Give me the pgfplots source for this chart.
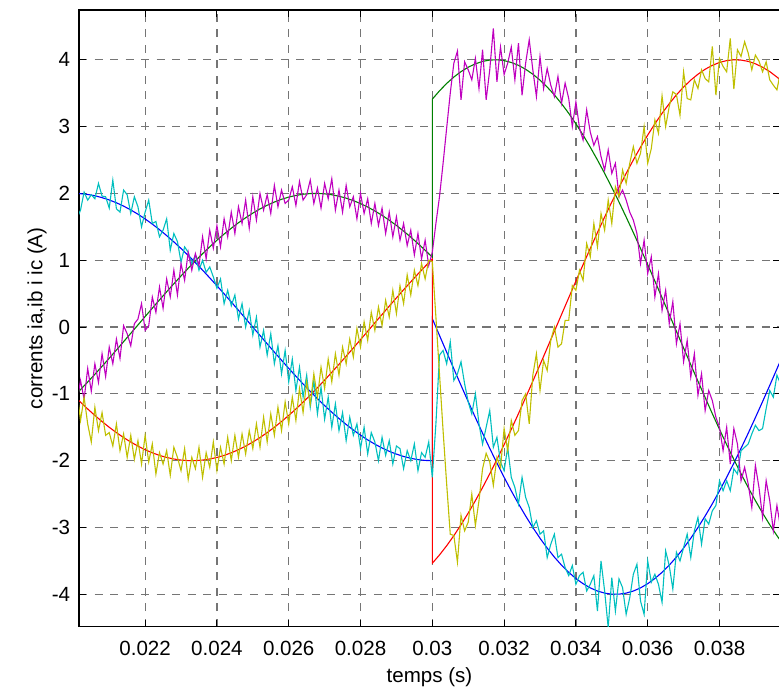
\documentclass[border=0pt]{standalone}
\usepackage{fontspec}
\setmainfont{Liberation Sans}
\usepackage{pgfplots}
\usepackage{pgfplotstable}
\pgfplotsset{compat=1.18}

\definecolor{mblue}{rgb}{0,0,1}
\definecolor{mgreen}{rgb}{0,0.5,0}
\definecolor{mred}{rgb}{1,0,0}
\definecolor{mcyan}{rgb}{0,0.75,0.75}
\definecolor{mmagenta}{rgb}{0.75,0,0.75}
\definecolor{molive}{rgb}{0.75,0.75,0}
\definecolor{gridgray}{rgb}{0.46,0.46,0.46}

% reference currents ia, ib, ic (step at t = 0.03 s)
\pgfplotstableread{
t ga rb bc
0.0200 -1.045 -1.018 2.000
0.0202 -0.936 -1.124 1.996
0.0204 -0.823 -1.226 1.984
0.0206 -0.707 -1.323 1.965
0.0208 -0.588 -1.414 1.937
0.0210 -0.467 -1.500 1.902
0.0212 -0.344 -1.580 1.860
0.0214 -0.219 -1.654 1.810
0.0216 -0.094 -1.721 1.753
0.0218 0.031 -1.782 1.689
0.0220 0.157 -1.836 1.618
0.0222 0.282 -1.882 1.541
0.0224 0.406 -1.921 1.458
0.0226 0.528 -1.952 1.369
0.0228 0.648 -1.975 1.275
0.0230 0.765 -1.991 1.176
0.0232 0.880 -1.999 1.072
0.0234 0.991 -1.999 0.964
0.0236 1.098 -1.991 0.852
0.0238 1.201 -1.975 0.736
0.0240 1.299 -1.952 0.618
0.0242 1.392 -1.921 0.497
0.0244 1.479 -1.882 0.375
0.0246 1.561 -1.836 0.251
0.0248 1.636 -1.782 0.126
0.0250 1.705 -1.721 0.000
0.0252 1.768 -1.654 -0.126
0.0254 1.823 -1.580 -0.251
0.0256 1.871 -1.500 -0.375
0.0258 1.912 -1.414 -0.497
0.0260 1.945 -1.323 -0.618
0.0262 1.970 -1.226 -0.736
0.0264 1.988 -1.124 -0.852
0.0266 1.998 -1.018 -0.964
0.0268 2.000 -0.908 -1.072
0.0270 1.994 -0.794 -1.176
0.0272 1.980 -0.677 -1.275
0.0274 1.958 -0.558 -1.369
0.0276 1.929 -0.436 -1.458
0.0278 1.892 -0.313 -1.541
0.0280 1.848 -0.188 -1.618
0.0282 1.796 -0.063 -1.689
0.0284 1.737 0.063 -1.753
0.0286 1.672 0.188 -1.810
0.0288 1.599 0.313 -1.860
0.0290 1.521 0.436 -1.902
0.0292 1.436 0.558 -1.937
0.0294 1.346 0.677 -1.965
0.0296 1.250 0.794 -1.984
0.0298 1.150 0.908 -1.996
0.0300 1.045 1.018 -2.000
0.0300 3.411 -3.535 0.126
0.0302 3.535 -3.411 -0.126
0.0304 3.646 -3.273 -0.376
0.0306 3.742 -3.122 -0.626
0.0308 3.823 -2.959 -0.873
0.0310 3.889 -2.784 -1.116
0.0312 3.940 -2.598 -1.355
0.0314 3.976 -2.402 -1.589
0.0316 3.996 -2.196 -1.816
0.0318 4.000 -1.982 -2.036
0.0320 3.988 -1.760 -2.248
0.0322 3.960 -1.531 -2.452
0.0324 3.917 -1.296 -2.645
0.0326 3.858 -1.055 -2.828
0.0328 3.784 -0.811 -3.000
0.0330 3.696 -0.564 -3.161
0.0332 3.592 -0.314 -3.308
0.0334 3.475 -0.063 -3.443
0.0336 3.343 0.188 -3.564
0.0338 3.199 0.439 -3.671
0.0340 3.042 0.688 -3.764
0.0342 2.873 0.934 -3.841
0.0344 2.692 1.176 -3.904
0.0346 2.501 1.414 -3.951
0.0348 2.300 1.646 -3.982
0.0350 2.090 1.872 -3.998
0.0352 1.872 2.090 -3.998
0.0354 1.646 2.300 -3.982
0.0356 1.414 2.501 -3.951
0.0358 1.176 2.692 -3.904
0.0360 0.934 2.873 -3.841
0.0362 0.688 3.042 -3.764
0.0364 0.439 3.199 -3.671
0.0366 0.188 3.343 -3.564
0.0368 -0.063 3.475 -3.443
0.0370 -0.314 3.592 -3.308
0.0372 -0.564 3.696 -3.161
0.0374 -0.811 3.784 -3.000
0.0376 -1.055 3.858 -2.828
0.0378 -1.296 3.917 -2.645
0.0380 -1.531 3.960 -2.452
0.0382 -1.760 3.988 -2.248
0.0384 -1.982 4.000 -2.036
0.0386 -2.196 3.996 -1.816
0.0388 -2.402 3.976 -1.589
0.0390 -2.598 3.940 -1.355
0.0392 -2.784 3.889 -1.116
0.0394 -2.959 3.823 -0.873
0.0396 -3.122 3.742 -0.626
0.0398 -3.273 3.646 -0.376
0.0400 -3.411 3.535 -0.126
}\refcurrents

% measured currents ia, ib, ic
\pgfplotstableread{
t ma yb cc
0.0200 -0.95 -0.78 1.85
0.0201 -1.12 -0.95 1.62
0.0202 -0.80 -1.40 1.75
0.0203 -1.08 -1.05 2.02
0.0204 -0.62 -1.45 1.90
0.0205 -0.96 -1.72 1.98
0.0206 -0.55 -1.20 1.92
0.0207 -0.83 -1.55 2.15
0.0208 -0.40 -1.28 1.96
0.0209 -0.74 -1.62 1.95
0.0210 -0.30 -1.58 1.78
0.0211 -0.55 -1.78 2.20
0.0212 -0.18 -1.45 1.77
0.0213 -0.47 -1.85 1.72
0.0214 0.02 -1.60 2.05
0.0215 -0.10 -1.95 1.98
0.0216 -0.28 -1.62 1.70
0.0217 0.05 -1.98 1.95
0.0218 0.12 -1.70 1.80
0.0219 0.35 -2.05 1.50
0.0220 -0.05 -1.62 1.72
0.0221 0.02 -2.02 1.90
0.0222 0.45 -1.75 1.55
0.0223 0.22 -2.20 1.58
0.0224 0.60 -1.88 1.35
0.0225 0.28 -2.05 1.45
0.0226 0.72 -1.85 1.62
0.0227 0.45 -2.22 1.15
0.0228 0.85 -1.80 1.40
0.0229 0.48 -1.95 1.28
0.0230 0.95 -2.15 0.97
0.0231 0.70 -1.82 1.20
0.0232 1.12 -2.28 1.12
0.0233 0.85 -1.95 0.95
0.0234 1.10 -2.12 1.08
0.0235 0.92 -1.80 0.85
0.0236 1.35 -2.25 1.00
0.0237 1.02 -1.88 0.82
0.0238 1.45 -2.10 0.90
0.0239 1.18 -1.72 0.75
0.0240 1.52 -2.15 0.58
0.0241 1.20 -1.80 0.72
0.0242 1.62 -2.05 0.35
0.0243 1.35 -1.65 0.55
0.0244 1.72 -2.00 0.32
0.0245 1.40 -1.62 0.48
0.0246 1.80 -1.95 0.12
0.0247 1.55 -1.60 0.35
0.0248 1.90 -1.90 0.00
0.0249 1.48 -1.55 0.25
0.0250 1.95 -1.82 -0.12
0.0251 1.60 -1.45 0.15
0.0252 2.00 -1.80 -0.30
0.0253 1.75 -1.35 -0.05
0.0254 1.98 -1.72 -0.42
0.0255 1.70 -1.30 -0.10
0.0256 2.12 -1.62 -0.55
0.0257 1.80 -1.20 -0.28
0.0258 2.05 -1.55 -0.70
0.0259 1.85 -1.12 -0.35
0.0260 1.90 -1.45 -0.82
0.0261 2.10 -1.05 -0.48
0.0262 1.82 -1.40 -0.95
0.0263 2.18 -0.92 -0.60
0.0264 1.90 -1.28 -1.05
0.0265 1.98 -0.82 -0.72
0.0266 2.20 -1.15 -1.20
0.0267 1.85 -0.70 -0.80
0.0268 2.08 -1.05 -1.30
0.0269 1.78 -0.60 -0.90
0.0270 2.15 -0.92 -1.38
0.0271 1.92 -0.48 -1.05
0.0272 2.22 -0.82 -1.50
0.0273 1.75 -0.40 -1.15
0.0274 2.05 -0.72 -1.55
0.0275 1.72 -0.30 -1.28
0.0276 2.12 -0.55 -1.70
0.0277 1.80 -0.18 -1.35
0.0278 1.95 -0.45 -1.62
0.0279 1.62 -0.02 -1.45
0.0280 2.00 -0.30 -1.82
0.0281 1.70 0.08 -1.50
0.0282 1.92 -0.20 -1.90
0.0283 1.55 0.22 -1.58
0.0284 1.85 -0.05 -1.72
0.0285 1.52 0.30 -2.00
0.0286 1.78 0.02 -1.65
0.0287 1.40 0.40 -1.92
0.0288 1.72 0.15 -1.70
0.0289 1.35 0.55 -2.05
0.0290 1.65 0.20 -1.78
0.0291 1.30 0.62 -1.82
0.0292 1.55 0.35 -2.12
0.0293 1.22 0.78 -1.85
0.0294 1.45 0.48 -2.00
0.0295 1.08 0.85 -1.75
0.0296 1.40 0.62 -2.15
0.0297 1.02 0.95 -1.88
0.0298 1.30 0.72 -1.95
0.0299 0.92 1.00 -1.72
0.0300 1.12 0.98 -2.25
0.0301 1.55 0.15 -1.45
0.0302 1.95 -0.70 -0.42
0.0303 2.45 -1.55 -0.35
0.0304 2.98 -2.35 -0.55
0.0305 3.50 -3.10 -0.22
0.0306 3.95 -3.12 -0.80
0.0307 4.13 -3.52 -0.70
0.0308 3.40 -2.82 -0.52
0.0309 3.97 -3.05 -0.85
0.0310 3.85 -2.92 -1.12
0.0311 3.70 -2.50 -1.30
0.0312 4.02 -2.97 -1.00
0.0313 3.57 -2.60 -1.45
0.0314 4.15 -2.12 -1.75
0.0315 3.40 -1.89 -1.50
0.0316 3.85 -2.02 -1.25
0.0317 4.47 -2.37 -1.80
0.0318 3.67 -1.95 -1.65
0.0319 4.19 -2.10 -2.02
0.0320 3.78 -1.52 -2.15
0.0321 3.95 -1.85 -1.80
0.0322 4.19 -1.40 -2.25
0.0323 3.70 -1.62 -2.40
0.0324 4.25 -1.55 -2.65
0.0325 3.47 -1.10 -2.25
0.0326 3.95 -1.00 -2.55
0.0327 4.30 -1.45 -2.70
0.0328 3.85 -0.72 -3.00
0.0329 3.45 -0.40 -2.90
0.0330 4.05 -0.95 -3.10
0.0331 3.57 -0.50 -3.05
0.0332 3.87 -0.65 -3.45
0.0333 3.62 -0.20 -3.25
0.0334 3.45 0.00 -3.10
0.0335 3.75 -0.30 -3.45
0.0336 3.35 -0.25 -3.40
0.0337 3.65 0.10 -3.60
0.0338 3.42 0.10 -3.72
0.0339 3.00 0.62 -3.57
0.0340 3.37 0.55 -3.85
0.0341 2.98 0.85 -3.72
0.0342 2.80 0.70 -3.67
0.0343 3.25 1.25 -3.95
0.0344 2.92 1.05 -3.85
0.0345 2.72 1.55 -3.72
0.0346 2.85 1.20 -4.25
0.0347 2.55 1.70 -3.50
0.0348 2.35 1.45 -3.95
0.0349 2.65 1.90 -4.50
0.0350 2.30 1.55 -3.75
0.0351 2.45 2.10 -4.25
0.0352 1.95 1.95 -3.77
0.0353 2.05 2.35 -3.90
0.0354 1.90 2.15 -4.30
0.0355 1.72 2.45 -4.05
0.0356 1.60 2.70 -3.70
0.0357 1.40 2.45 -3.55
0.0358 0.95 2.60 -4.10
0.0359 1.30 3.00 -4.30
0.0360 0.80 2.45 -3.50
0.0361 1.05 2.67 -3.82
0.0362 0.45 3.10 -3.70
0.0363 0.80 2.90 -3.85
0.0364 0.25 3.46 -4.12
0.0365 0.55 3.00 -3.35
0.0366 0.05 3.30 -3.57
0.0367 0.38 3.52 -3.92
0.0368 -0.25 3.48 -3.37
0.0369 0.05 3.17 -3.50
0.0370 -0.52 3.82 -3.30
0.0371 -0.20 3.42 -3.10
0.0372 -0.75 3.40 -3.45
0.0373 -0.40 3.70 -3.05
0.0374 -1.02 3.57 -2.85
0.0375 -0.70 3.85 -3.25
0.0376 -1.25 3.72 -2.87
0.0377 -0.95 3.67 -2.95
0.0378 -1.10 4.20 -2.75
0.0379 -1.35 3.47 -2.67
0.0380 -1.50 4.02 -2.30
0.0381 -1.85 3.90 -2.45
0.0382 -1.50 3.82 -2.30
0.0383 -2.05 4.32 -2.45
0.0384 -1.52 3.56 -2.12
0.0385 -1.75 4.15 -2.20
0.0386 -2.30 4.05 -1.85
0.0387 -2.10 4.27 -1.80
0.0388 -2.35 4.10 -1.75
0.0389 -2.70 3.85 -1.60
0.0390 -2.07 4.07 -1.47
0.0391 -2.40 3.98 -1.55
0.0392 -2.85 3.82 -1.52
0.0393 -2.30 3.97 -1.22
0.0394 -2.60 3.70 -0.95
0.0395 -3.05 3.62 -1.05
0.0396 -2.67 3.55 -0.72
0.0397 -3.00 3.82 -0.85
0.0398 -3.25 3.60 -0.45
0.0399 -3.05 3.72 -0.60
0.0400 -3.45 3.45 -0.30
}\meascurrents

\begin{document}
\begin{tikzpicture}
\useasboundingbox (-39.5bp,-32bp) rectangle (349.6bp,313bp);
\begin{axis}[
  at={(0,0)}, anchor=south west,
  scale only axis, width=350bp, height=308bp,
  xmin=0.02016, xmax=0.03968, ymin=-4.484, ymax=4.745,
  scaled x ticks=false, scaled y ticks=false,
  xtick={0.022,0.024,0.026,0.028,0.030,0.032,0.034,0.036,0.038},
  xticklabels={0.022,0.024,0.026,0.028,0.03,0.032,0.034,0.036,0.038},
  ytick={-4,-3,-2,-1,0,1,2,3,4},
  yticklabels={-4,-3,-2,-1,0,1,2,3,4},
  grid=major,
  major grid style={draw=gridgray, line width=0.6bp, dash pattern=on 4bp off 3.75bp},
  tick align=inside, major tick length=3.5bp,
  tick style={black, line width=0.5bp},
  axis line style={black, line width=0.6bp},
  tick label style={font=\fontsize{10.3}{12}\selectfont},
  label style={font=\fontsize{10.3}{12}\selectfont},
  xticklabel style={anchor=center, yshift=-11bp},
  yticklabel style={xshift=-1bp},
  xlabel={temps (s)},
  ylabel={corrents ia,ib i ic (A)},
  x label style={at={(axis description cs:0.5,-0.0812)}, anchor=center},
  y label style={at={(axis description cs:-0.06,0.5)}, anchor=center},
  every axis plot/.append style={line width=0.55bp},
]
\addplot[mblue] table[x=t, y=bc] {\refcurrents};
\addplot[mgreen] table[x=t, y=ga] {\refcurrents};
\addplot[mred] table[x=t, y=rb] {\refcurrents};
\addplot[mcyan] table[x=t, y=cc] {\meascurrents};
\addplot[mmagenta] table[x=t, y=ma] {\meascurrents};
\addplot[molive] table[x=t, y=yb] {\meascurrents};
\end{axis}
\end{tikzpicture}
\end{document}
